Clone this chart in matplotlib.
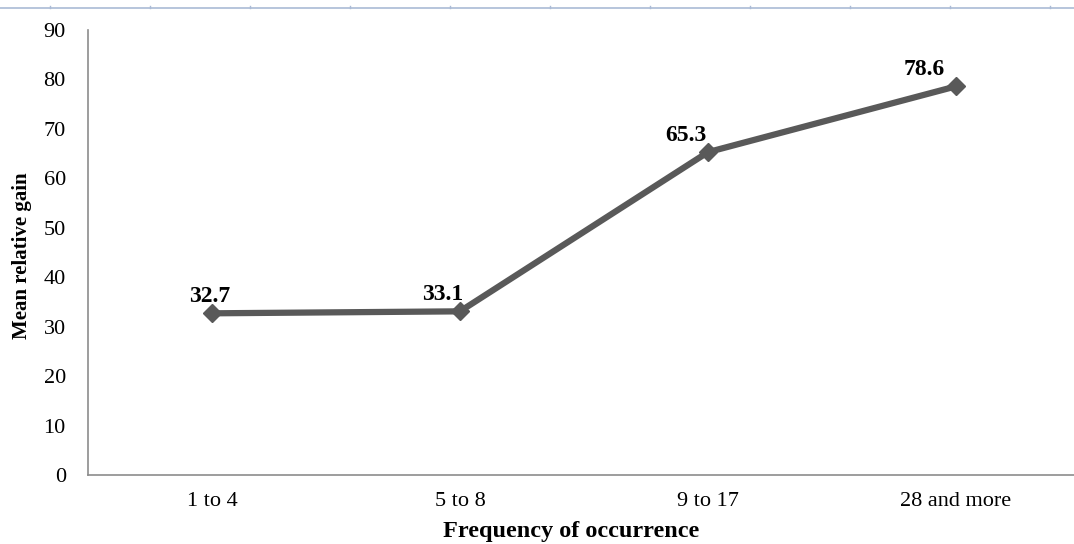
import matplotlib
matplotlib.use("Agg")
import matplotlib.pyplot as plt
from matplotlib.lines import Line2D

categories = ["1 to 4", "5 to 8", "9 to 17", "28 and more"]
values = [32.7, 33.1, 65.3, 78.6]
yticks = [0, 10, 20, 30, 40, 50, 60, 70, 80, 90]
label_dx_px = [-2, -17, -22, -32]   # label placement offsets (style)

plt.rcParams['font.family'] = ['Liberation Serif', 'DejaVu Serif']

W, H = 1074, 544
fig = plt.figure(figsize=(W / 100, H / 100), dpi=100)
left, right, top, bottom = 88, 1080, 30, 475
ax = fig.add_axes([left / W, (H - bottom) / H, (right - left) / W, (bottom - top) / H])

x = list(range(len(categories)))
ax.plot(x, values, color="#595959", lw=4.5, marker="D", markersize=9.5,
        markerfacecolor="#595959", markeredgecolor="#595959", solid_joinstyle="miter")
for xi, v, dx in zip(x, values, label_dx_px):
    ax.annotate(f"{v}", (xi, v), xytext=(dx * 0.72, 8), textcoords="offset points",
                ha="center", va="baseline", fontsize=17, fontweight="bold")

ax.set_xlim(-0.5, len(categories) - 0.5)
ax.set_ylim(0, 90)
ax.set_yticks(yticks)
ax.set_xticks(x)
ax.set_xticklabels(categories)
ax.tick_params(axis="both", length=0, labelsize=16)
ax.tick_params(axis="x", pad=12)
ax.tick_params(axis="y", pad=16)
for s in ["top", "right"]:
    ax.spines[s].set_visible(False)
for s in ["left", "bottom"]:
    ax.spines[s].set_color("#8c8c8c")
    ax.spines[s].set_linewidth(1.2)

fig.text(22 / W, 1 - 256 / H, "Mean relative gain", rotation=90, ha="center", va="center",
         fontsize=15, fontweight="bold")
fig.text(571 / W, 1 - 531 / H, "Frequency of occurrence", ha="center", va="center",
         fontsize=17.5, fontweight="bold")

# thin spreadsheet-like line at the top
ly = 1 - 8 / H
fig.add_artist(Line2D([0, 1], [ly, ly], transform=fig.transFigure, color="#aabbd6", lw=1.2))
for tx in range(50, W, 100):
    fig.add_artist(Line2D([tx / W, tx / W], [ly, ly + 2.5 / H], transform=fig.transFigure,
                          color="#aabbd6", lw=1))

fig.savefig("out.png", dpi=100)
